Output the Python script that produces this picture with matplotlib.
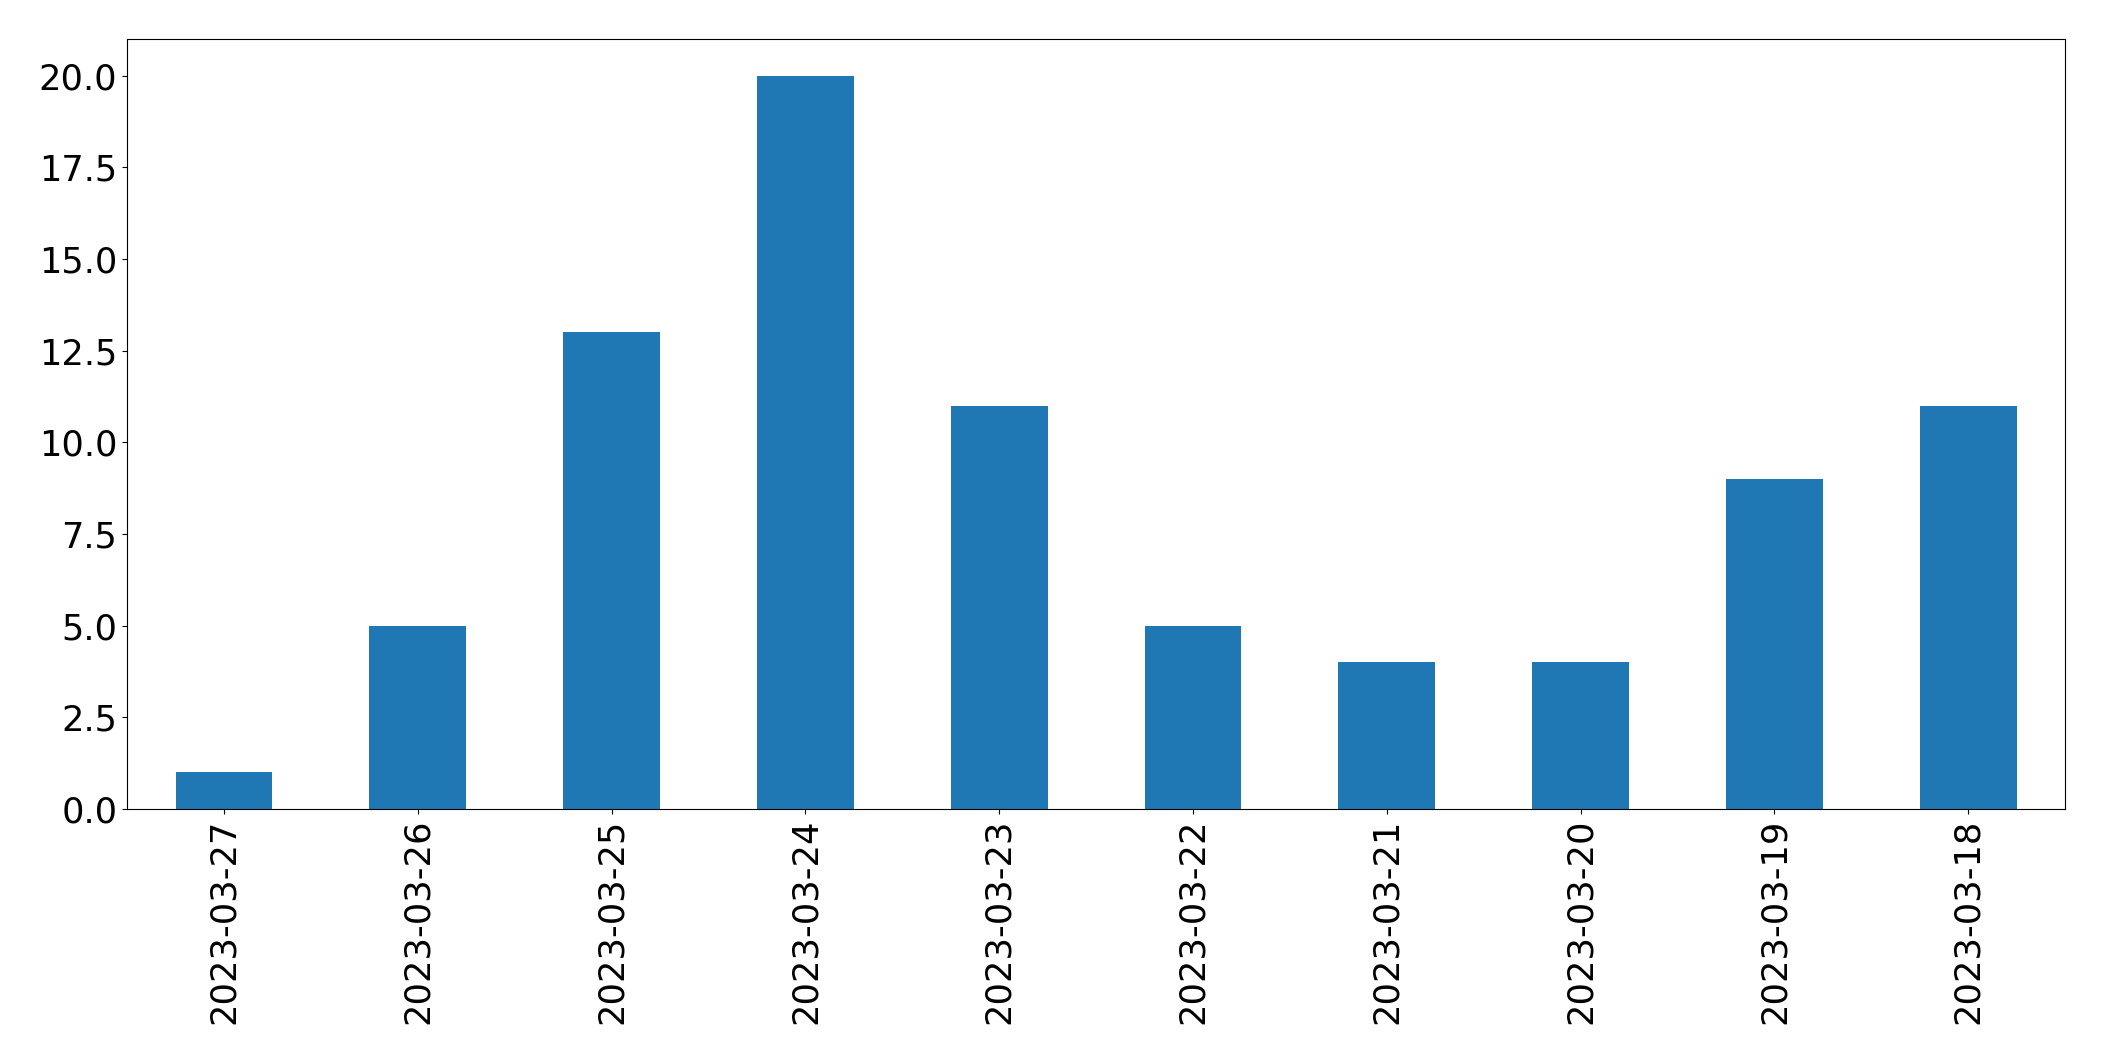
import matplotlib
matplotlib.use("Agg")
import matplotlib.pyplot as plt
import pandas as pd

# counts per day, newest first (as in the reference)
dates = ["2023-03-27", "2023-03-26", "2023-03-25", "2023-03-24", "2023-03-23",
         "2023-03-22", "2023-03-21", "2023-03-20", "2023-03-19", "2023-03-18"]
counts = [1, 5, 13, 20, 11, 5, 4, 4, 9, 11]

s = pd.Series(counts, index=dates)

fig = plt.figure(figsize=(21.04, 10.61), dpi=100)
ax = fig.add_axes([0.0604, 0.2375, 0.9211, 0.7257])
s.plot(kind="bar", ax=ax, color="#1f77b4", width=0.5)
ax.tick_params(axis="both", labelsize=25.4)
ax.set_yticks([0, 2.5, 5, 7.5, 10, 12.5, 15, 17.5, 20])

fig.savefig("out.png", dpi=100)
